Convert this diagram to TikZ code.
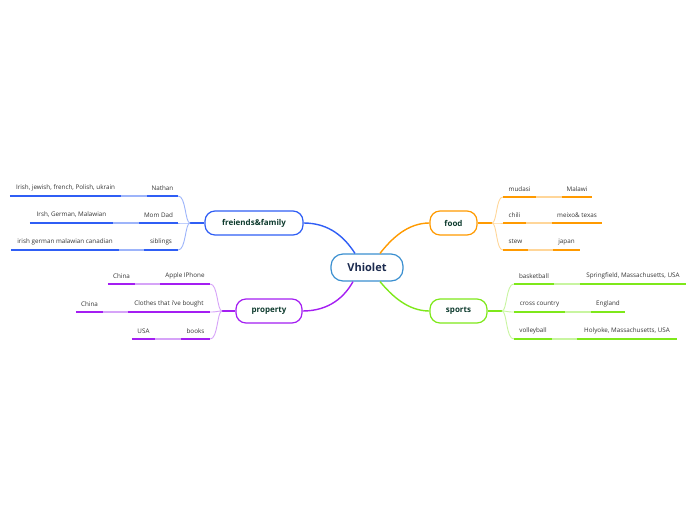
\documentclass[tikz,border=0pt]{standalone}
\usepackage{fontspec}
\usetikzlibrary{calc}
\setmainfont{Open Sans}
\definecolor{cblue}{HTML}{2F5EF5}
\definecolor{cbluel}{HTML}{9DB4FA}
\definecolor{cpurp}{HTML}{A41EF2}
\definecolor{cpurpl}{HTML}{D6A3F8}
\definecolor{corng}{HTML}{FF9A00}
\definecolor{corngl}{HTML}{FFD699}
\definecolor{cgrn}{HTML}{7EE81A}
\definecolor{cgrnl}{HTML}{C8F5A0}
\definecolor{ccent}{HTML}{3A8FD0}
\definecolor{ctxt}{HTML}{0E3B2E}
\definecolor{cctxt}{HTML}{1B2A4E}
\definecolor{cleaf}{HTML}{333333}
\tikzset{
  central/.style={draw=ccent, line width=1.2pt, rounded corners=12pt, fill=white,
    minimum width=72pt, minimum height=27pt, font=\fontsize{11}{13}\selectfont\bfseries, text=cctxt},
  branch/.style={draw=#1, line width=1.2pt, rounded corners=10pt, fill=white,
    minimum height=24pt, font=\fontsize{8}{10}\selectfont\bfseries, text=ctxt, inner sep=0pt},
  leaf/.style={inner sep=0pt, minimum height=16pt, anchor=south, font=\fontsize{6.3}{7.5}\selectfont, text=cleaf},
  uline/.style={draw=#1, line width=2pt},
  link/.style={draw=#1, line width=1.6pt},
  twig/.style={draw=#1, line width=0.9pt},
  main/.style={draw=#1, line width=1.4pt},
}
\newcommand{\leafpair}[8]{%
  \node[leaf, minimum width=#3pt-#2pt] (#1) at ({(#2+#3)/2},#4) {#5};
  \node[leaf, minimum width=#7pt-#6pt] (#1s) at ({(#6+#7)/2},#4) {#8};
}
\begin{document}
\begin{tikzpicture}[x=1pt,y=-1pt]
\useasboundingbox (0,0) rectangle (696,520);

% central
\node[central] (v) at (367,267.5) {Vhiolet};

% branch nodes
\node[branch=cblue, minimum width=98pt] (ff) at (254,223) {freiends\&family};
\node[branch=cpurp, minimum width=66pt] (pr) at (269,311) {property};
\node[branch=corng, minimum width=47pt] (fd) at (453.5,223) {food};
\node[branch=cgrn, minimum width=57pt] (sp) at (458.5,311) {sports};

% main connectors
\draw[main=cblue] (ff.east) .. controls (330,223) and (345,238) .. ([xshift=-12pt]v.north);
\draw[main=corng] (fd.west) .. controls (408,223) and (392,238) .. ([xshift=13pt]v.north);
\draw[main=cpurp] (pr.east) .. controls (330,311) and (345,296) .. ([xshift=-14pt]v.south);
\draw[main=cgrn] (sp.west) .. controls (408,311) and (392,296) .. ([xshift=13pt]v.south);

% junctions
\coordinate (jf) at (190,223);
\coordinate (jp) at (222,311);
\coordinate (jo) at (492,223);
\coordinate (jg) at (502,311);
\draw[main=cblue] (ff.west) -- (jf);
\draw[main=cpurp] (pr.west) -- (jp);
\draw[main=corng] (fd.east) -- (jo);
\draw[main=cgrn] (sp.east) -- (jg);

% friends & family leaves
\leafpair{f1}{147}{178}{196}{Nathan}{10}{121}{Irish, jewish, french, Polish, ukrain}
\leafpair{f2}{139}{178}{223}{Mom Dad}{30}{113}{Irsh, German, Malawian}
\leafpair{f3}{144}{178}{250}{siblings}{11}{119}{irish german malawian canadian}
\foreach \n in {f1,f2,f3}{
  \draw[twig=cbluel] (jf) .. controls ($(jf)+(-5,0)$) and ($(jf|-\n.south east)+(-4,0)$) .. (\n.south east);
  \draw[link=cbluel] (\n.south west) -- (\n s.south east);
  \draw[uline=cblue] (\n.south west) -- (\n.south east);
  \draw[uline=cblue] (\n s.south west) -- (\n s.south east);
}

% property leaves
\leafpair{p1}{160}{210}{284}{Apple IPhone}{108}{135}{China}
\leafpair{p2}{128}{210}{312}{Clothes that i've bought}{76}{103}{China}
\leafpair{p3}{181}{210}{339}{books}{132}{155}{USA}
\foreach \n in {p1,p2,p3}{
  \draw[twig=cpurpl] (jp) .. controls ($(jp)+(-5,0)$) and ($(jp|-\n.south east)+(-4,0)$) .. (\n.south east);
  \draw[link=cpurpl] (\n.south west) -- (\n s.south east);
  \draw[uline=cpurp] (\n.south west) -- (\n.south east);
  \draw[uline=cpurp] (\n s.south west) -- (\n s.south east);
}

% food leaves
\leafpair{o1}{503}{536}{197}{mudasi}{562}{592}{Malawi}
\leafpair{o2}{503}{526}{223}{chili}{552}{602}{meixo\& texas}
\leafpair{o3}{503}{528}{250}{stew}{553}{580}{japan}
\foreach \n in {o1,o2,o3}{
  \draw[twig=corngl] (jo) .. controls ($(jo)+(5,0)$) and ($(jo|-\n.south west)+(4,0)$) .. (\n.south west);
  \draw[link=corngl] (\n.south east) -- (\n s.south west);
  \draw[uline=corng] (\n.south west) -- (\n.south east);
  \draw[uline=corng] (\n s.south west) -- (\n s.south east);
}

% sports leaves
\leafpair{g1}{514}{554}{284}{basketball}{580}{686}{Springfield, Massachusetts, USA}
\leafpair{g2}{514}{565}{312}{cross country}{591}{625}{England}
\leafpair{g3}{514}{552}{339}{volleyball}{577}{677}{Holyoke, Massachusetts, USA}
\foreach \n in {g1,g2,g3}{
  \draw[twig=cgrnl] (jg) .. controls ($(jg)+(5,0)$) and ($(jg|-\n.south west)+(4,0)$) .. (\n.south west);
  \draw[link=cgrnl] (\n.south east) -- (\n s.south west);
  \draw[uline=cgrn] (\n.south west) -- (\n.south east);
  \draw[uline=cgrn] (\n s.south west) -- (\n s.south east);
}
\end{tikzpicture}
\end{document}
